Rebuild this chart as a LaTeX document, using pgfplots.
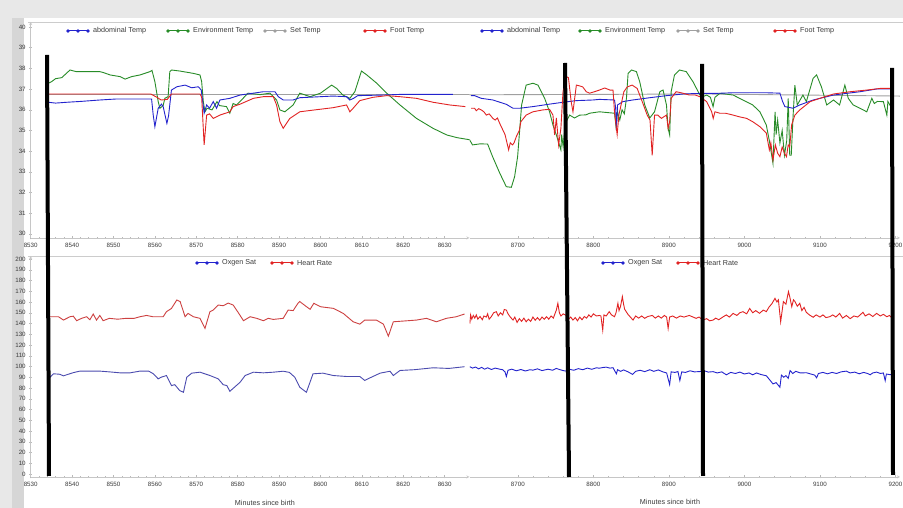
\documentclass[border=0pt]{standalone}
\usepackage{fontspec}
\setmainfont{Liberation Sans}
\usepackage{pgfplots}
\pgfplotsset{compat=1.18}

\definecolor{cblue}{RGB}{35,35,205}
\definecolor{cgreen}{RGB}{40,140,40}
\definecolor{cred}{RGB}{225,35,35}
\definecolor{cgray}{RGB}{160,160,160}
\definecolor{lblue}{RGB}{75,75,175}
\definecolor{lred}{RGB}{205,65,65}
\definecolor{txt}{RGB}{60,60,60}

\pgfplotsset{
  panel/.style={scale only axis, axis line style={gray!45,-}, tick style={gray!55, line width=0.4pt},
    tick align=outside, major tick length=3pt, minor tick length=1.8pt,
    ticklabel style={font=\fontsize{6.2}{7}\selectfont, text=txt},
    /pgf/number format/assume math mode=true, /pgf/number format/1000 sep={},
    every axis plot/.append style={line width=0.9pt, mark=none},
    axis x line=bottom},
  leftx/.style={xmin=8530, xmax=8636, xtick={8530,8540,...,8630}, minor x tick num=4, width=438.8pt, axis y line=left},
  rightx/.style={xmin=8636, xmax=9206, xtick={8700,8800,...,9200}, minor x tick num=4, width=430.5pt, axis y line=none},
  toppanel/.style={ymin=29.8, ymax=40.24, height=216pt, ytick={30,31,...,40}},
  botpanel/.style={ymin=-2.8, ymax=202.8, height=221pt, ytick={0,10,...,200}},
}

\newcommand{\leg}[4]{%
  \draw[#1, line width=1pt] (#2pt,#3pt) -- ++(20pt,0);
  \fill[#1] (#2pt,#3pt) circle(1.8pt) ++(10pt,0) circle(1.8pt) ++(10pt,0) circle(1.8pt);
  \node[anchor=west, font=\fontsize{7.2}{8}\selectfont, text=txt, inner sep=0pt] at (#2pt+25pt,#3pt) {#4};
}

\begin{document}
\begin{tikzpicture}
\useasboundingbox (0pt,0pt) rectangle (903pt,508pt);
\fill[gray!18] (0pt,0pt) rectangle (903pt,508pt);
\fill[gray!32] (12pt,0pt) rectangle (24pt,490pt);
\fill[white] (24pt,0pt) rectangle (903pt,490pt);
\draw[gray!40, line width=0.5pt] (28pt,486pt) -- (903pt,486pt);
\draw[gray!40, line width=0.5pt] (28pt,252pt) -- (903pt,252pt);

% ---------------- top left ----------------
\begin{axis}[panel, leftx, toppanel, at={(30.7pt,270pt)}, anchor=south west]
\addplot[cgray] coordinates {(8534,36.72) (8636,36.72)};
\addplot[cgreen] coordinates {(8534.3,37.28) (8535,37.35) (8536,37.5) (8537.5,37.55) (8539.5,37.92) (8541,37.84) (8546.7,37.84) (8547.5,37.8) (8549.2,37.68) (8551.6,37.6) (8552.8,37.48) (8554.4,37.6) (8556.4,37.68) (8558.8,37.84) (8559.3,37.9) (8560,37.35) (8560.8,36.39) (8561.2,36.07) (8562,36.2) (8562.4,36.55) (8563.2,36.63) (8563.6,37.84) (8564,37.92) (8566,37.87) (8569.2,37.76) (8570.9,37.68) (8571.3,37.35) (8571.7,36.39) (8572.1,35.9) (8572.6,36.07) (8573.8,35.99) (8575,36.39) (8575.6,36.2) (8577.3,36.15) (8578.1,35.83) (8578.9,36.3) (8579.7,36.23) (8581.3,36.55) (8582.5,36.8) (8585.4,36.73) (8587.8,36.8) (8589.4,36.47) (8590.2,35.99) (8591.4,35.9) (8593.4,36.23) (8595,36.8) (8597.5,36.63) (8600,36.8) (8602.7,37.19) (8603.9,37.03) (8605.4,36.71) (8607.1,36.55) (8608.3,36.87) (8609.9,37.87) (8611.2,37.68) (8613.6,37.28) (8616,36.8) (8619.2,36.23) (8623.2,35.58) (8627.2,35.1) (8630.5,34.78) (8633,34.65) (8636,34.55)};
\addplot[cblue] coordinates {(8534.3,36.36) (8536,36.32) (8538.7,36.36) (8542,36.4) (8546.7,36.47) (8550.8,36.52) (8559.2,36.52) (8559.6,35.74) (8560,35.18) (8560.8,36.07) (8561.6,36.27) (8562,36.15) (8562.9,35.34) (8563.3,35.7) (8564,36.95) (8565.3,37.11) (8567.3,37.19) (8568.9,37.06) (8570.5,37.11) (8571.2,36.95) (8571.9,35.83) (8572.5,36.23) (8573.2,36.07) (8574.1,36.39) (8574.9,36.07) (8575.7,36.47) (8578.1,36.55) (8580.6,36.71) (8583.8,36.8) (8586.2,36.87) (8589,36.87) (8589.8,36.63) (8591,36.47) (8593.4,36.47) (8595,36.58) (8600,36.63) (8603,36.66) (8606.3,36.63) (8607.1,36.47) (8608,36.55) (8609,36.68) (8615.2,36.71) (8619.2,36.74) (8632,36.74)};
\addplot[cred] coordinates {(8534.3,36.76) (8559,36.76) (8560.5,36.6) (8561.5,36.47) (8563,36.5) (8564,36.76) (8570.9,36.76) (8571.3,36.6) (8571.9,34.3) (8572.5,35.74) (8573.2,35.8) (8574.1,35.58) (8575.7,35.74) (8578.1,35.9) (8578.9,36.15) (8580.6,36.27) (8583.8,36.55) (8586.2,36.63) (8588.6,36.63) (8589.4,36.23) (8590.2,35.42) (8591,35.1) (8592.6,35.58) (8595,35.9) (8599,36.0) (8603.1,36.1) (8606.3,36.23) (8607.1,35.9) (8607.8,36.05) (8609.5,36.44) (8612.7,36.6) (8616,36.68) (8619.2,36.63) (8623.2,36.55) (8627.2,36.36) (8631.2,36.23) (8635,36.15)};
\end{axis}

% ---------------- top right ----------------
\begin{axis}[panel, rightx, toppanel, at={(469.5pt,270pt)}, anchor=south west]
\addplot[cgray] coordinates {(8636,36.72) (8950,36.76) (9206,36.66)};
\addplot[cgreen] coordinates {(8636,34.55) (8640,34.3) (8650,34.35) (8660,34.34) (8666.6,33.73) (8676,32.94) (8684.7,32.28) (8691.4,32.25) (8695.7,32.76) (8699.7,33.73) (8702.4,35.0) (8705,36.23) (8711,37.19) (8720,37.28) (8726.6,37.19) (8735.5,36.55) (8742,35.9) (8746.5,35.26) (8751,34.78) (8755,34.3) (8757,34.06) (8758,34.8) (8760,34.2) (8762,35.0) (8764,35.42) (8768.6,35.74) (8775,35.6) (8782,35.74) (8790,35.75) (8795,35.83) (8808,35.9) (8828,35.83) (8830,35.2) (8832,35.9) (8835,35.5) (8838,36.0) (8841,35.8) (8843.8,36.55) (8846,37.76) (8850.4,37.92) (8857,37.84) (8861.4,37.35) (8868,36.23) (8874.7,35.6) (8881,35.9) (8888,36.87) (8892.3,36.95) (8896.8,36.23) (8899,35.1) (8901,34.78) (8903,36.87) (8907.4,37.68) (8914,37.92) (8923,37.84) (8932,37.35) (8941,36.71) (8945,36.63) (8950,36.71) (8955,36.6) (8958.5,36.15) (8961,36.6) (8967.5,36.79) (8985,36.71) (8998,36.47) (9011,36.23) (9020.5,35.9) (9029,35.26) (9033,34.5) (9037.8,33.41) (9040.6,35.9) (9042,34.8) (9044,35.5) (9047,34.39) (9050,35.0) (9053,33.8) (9056,34.5) (9058,36.55) (9060,33.8) (9062,33.8) (9064.5,35.74) (9066.8,37.19) (9070,36.23) (9077.5,36.71) (9082,36.39) (9091,37.52) (9095.6,37.68) (9102,37.1) (9109,36.23) (9118,36.47) (9126,36.23) (9133,37.19) (9137.5,36.55) (9144,36.23) (9153,36.07) (9162,35.9) (9168.7,36.55) (9172,36.3) (9176,36.4) (9184,36.39) (9188.6,35.74) (9190,36.4) (9193,36.2)};
\addplot[cblue] coordinates {(8638,36.68) (8642.7,36.68) (8651.6,36.55) (8667,36.47) (8684.8,36.26) (8693.6,36.07) (8702.4,36.07) (8720,36.15) (8742,36.27) (8759.8,36.36) (8777.5,36.44) (8799.5,36.47) (8808,36.5) (8828,36.47) (8829.5,36.1) (8830.5,35.0) (8832,36.23) (8839,36.39) (8852,36.47) (8874.7,36.58) (8896.8,36.68) (8918.8,36.76) (8941,36.79) (8963,36.79) (8985,36.82) (9029,36.82) (9047,36.8) (9050.5,36.4) (9053.6,36.15) (9064.5,36.07) (9073.3,36.23) (9091,36.47) (9118,36.71) (9153,36.87) (9175,37.0) (9195,37.0)};
\addplot[cred] coordinates {(8638,36.07) (8642.7,36.07) (8645,35.95) (8648,36.05) (8651.6,35.99) (8655,35.9) (8658.3,35.74) (8662,35.8) (8667,35.58) (8670,35.5) (8673,35.6) (8676,35.34) (8680.4,35.0) (8683,34.8) (8685,34.5) (8687.8,34.06) (8690,34.4) (8693,34.3) (8695,34.4) (8698,34.7) (8702,35.0) (8704,35.42) (8711,35.74) (8720,35.9) (8733,35.99) (8742,36.02) (8746.5,35.74) (8748.7,34.78) (8751,35.6) (8754,34.3) (8757,35.1) (8759.8,36.87) (8764,37.6) (8767,37.55) (8770.6,36.39) (8773,35.9) (8777.5,37.19) (8782,37.15) (8786,37.1) (8790.6,36.87) (8795,36.8) (8801.5,36.87) (8808,36.95) (8815,37.05) (8822,36.95) (8826,36.95) (8828,35.9) (8830.5,35.1) (8831.5,34.8) (8833.8,35.74) (8840.4,36.87) (8844.8,37.1) (8851.4,37.19) (8858,37.03) (8864.7,36.39) (8871.3,35.74) (8875,35.5) (8877.9,33.8) (8881,35.74) (8885.4,35.74) (8890,35.58) (8896.8,35.74) (8899,35.1) (8901,35.42) (8903,36.55) (8909.6,36.87) (8918.4,36.8) (8927,36.71) (8935,36.71) (8941,36.63) (8950,36.39) (8956.6,35.9) (8958.7,35.58) (8961,35.9) (8967.5,35.83) (8975,35.83) (8985,35.74) (8993,35.66) (9003,35.58) (9011,35.42) (9020.5,35.18) (9029,34.87) (9033,34.06) (9035,34.4) (9037.8,33.57) (9041,34.3) (9044,33.9) (9047,33.73) (9050,34.2) (9053,33.9) (9055.7,33.73) (9058,34.3) (9060,34.2) (9062.5,35.26) (9066.8,35.74) (9073.3,35.99) (9087,36.39) (9100,36.55) (9118,36.76) (9140,36.87) (9162,36.95) (9180,37.03) (9195,37.03)};
\end{axis}

% ---------------- bottom left ----------------
\begin{axis}[panel, leftx, botpanel, at={(30.7pt,31pt)}, anchor=south west]
\addplot[lblue] coordinates {(8534.7,90) (8535.5,93.2) (8537,92.8) (8537.9,91.3) (8540.3,94.3) (8541.9,95.7) (8546.7,95.7) (8549,95) (8551.6,94.1) (8554,94.1) (8556.4,95.7) (8558.5,95.7) (8559.6,93.3) (8560.8,88.5) (8561.5,90) (8562.8,91.6) (8564,82.2) (8564.8,83.1) (8566,77.6) (8566.9,76) (8567.7,90) (8568.9,93.8) (8570.9,94.7) (8573.3,91.6) (8575.3,88.5) (8576.5,83.1) (8577.4,82.2) (8578.1,76.9) (8580.6,85.4) (8581.8,91.6) (8583.8,94.7) (8586.2,94.1) (8588.6,94.7) (8591,95.6) (8592.5,94.5) (8593.8,90) (8595,80.7) (8596.6,76) (8598.2,93.2) (8600.6,93.8) (8603.1,91.6) (8606.3,90.7) (8609.5,90.7) (8610.7,87) (8612,89.5) (8614.4,93.8) (8616.8,95.6) (8617.6,91.6) (8619.2,96.3) (8622.6,97) (8627.2,98.8) (8631,98.2) (8634.8,99.8)};
\addplot[lred] coordinates {(8534.7,146.3) (8536.7,146.3) (8537.9,143.2) (8539.5,146.3) (8540.3,146.8) (8541.1,142.6) (8542.3,144.8) (8543.5,146.3) (8544.3,143.5) (8545.1,148.8) (8545.9,143.2) (8546.7,147.5) (8547.5,142.6) (8549,144.8) (8551,144) (8553,144.8) (8555,144.8) (8556.4,146.3) (8558,147.5) (8559.5,146.3) (8562,146.3) (8562.8,151) (8564,154) (8565.3,161.9) (8566.1,160.4) (8567.3,146.3) (8568,149.4) (8569.3,146.3) (8570.9,144.8) (8572.1,135.4) (8573.3,151) (8574.1,152.5) (8575.3,157.2) (8576.5,156.5) (8577.7,159) (8578.9,157.2) (8580.1,150.4) (8581.4,142.6) (8583,146.3) (8584.6,144.8) (8586.2,142.6) (8587.4,144.8) (8588.6,143.8) (8591,144.8) (8592.2,152.5) (8593.4,152) (8594.6,159) (8595,160.4) (8596.6,155.7) (8597.5,153.2) (8598.4,158.8) (8600,155.6) (8603.1,154.1) (8605.5,149.4) (8607.9,141.6) (8609.5,139.4) (8610.7,143.2) (8613.5,143.2) (8615.2,139.4) (8616.4,128.2) (8617.6,141.6) (8620.8,142.5) (8623.2,143.2) (8625.6,144.8) (8628,141.6) (8630.4,144.8) (8632.8,146.3) (8634.8,148.8)};
\end{axis}

% ---------------- bottom right ----------------
\begin{axis}[panel, rightx, botpanel, at={(469.5pt,31pt)}, anchor=south west]
\addplot[cblue] coordinates {(8636.5,99.8) (8640,98.5) (8644,99.5) (8648,97.8) (8652,99.2) (8656,97.5) (8660,98.8) (8665,97.2) (8670,98.5) (8676,97.5) (8680,97) (8683,95) (8684.8,90.7) (8687,96.5) (8692,97.5) (8698,96) (8704,97.2) (8710,95.8) (8716,97) (8720,96.6) (8726,97.8) (8732,96.2) (8740,97.5) (8746,96.5) (8751,98.2) (8756,97) (8760,96.2) (8764,95.7) (8768,97.5) (8774,96.5) (8780,98) (8786,97) (8792,98.5) (8798,97.4) (8804,98.8) (8808,98.4) (8812,99) (8817,99.4) (8822,98.5) (8826,98.9) (8830.5,93.2) (8832,97) (8836,95.5) (8840,96.8) (8846,95) (8852,92.6) (8856,95.5) (8862,96.5) (8868,95.2) (8874.7,97) (8880,95.5) (8886,96.8) (8892,95) (8897,94) (8901,83.2) (8903,95) (8908,94.5) (8912,95.3) (8914.5,86.9) (8917,95) (8922,94.5) (8928,96) (8934,95) (8941,95.3) (8947,96) (8952,94.8) (8958.5,95.2) (8964,94) (8970,95) (8976,92.3) (8982,94.5) (8988,93.5) (8994,94.8) (9000,93) (9006,94) (9011,92.3) (9016,94) (9022,92.5) (9029,91.4) (9033,88) (9037.8,83.8) (9042,85) (9047,80.7) (9049,92) (9052,90) (9055,91.5) (9058,89) (9060.5,96.2) (9064,93.5) (9068,95.5) (9074,94) (9082,94.2) (9088,93) (9093,92) (9095.6,89.5) (9098,93.5) (9104,94.5) (9110,93.2) (9116,94.5) (9122,93.5) (9128,95) (9135,95.7) (9140,94) (9146,94.8) (9152,93.2) (9158,94.5) (9163,93.5) (9166.5,92.3) (9170,94) (9175,94.8) (9180,93.5) (9184,94) (9186.4,86.9) (9188,93) (9192,92.5) (9197,92.3)};
\addplot[cred] coordinates {(8636.5,140) (8637.5,148) (8639,144) (8641,147.5) (8643,145) (8645,148) (8647,144) (8650,146.5) (8653,143.5) (8655,147) (8658.3,146) (8660,149) (8662,144) (8665,146.5) (8668,150) (8671.5,151) (8674,147) (8677,150) (8680,148) (8682,153) (8684.8,152.5) (8687,149) (8690,146) (8693.6,143.2) (8696,146) (8699,141) (8702,144.5) (8705,142) (8708,145) (8711,141.6) (8714,144) (8717,142) (8720,146) (8723,143) (8726,145.5) (8729,143) (8732,146) (8735,144) (8738,146.3) (8741,144) (8744,147) (8747,145) (8751,152.5) (8753,158.8) (8755,150) (8757,147) (8760,149) (8764,147.5) (8767,144) (8770,146) (8773,143.2) (8776,145.5) (8779,142.5) (8782,146) (8785,143.5) (8788,146.5) (8791,145) (8794,148) (8797,146) (8800,149) (8804,147) (8808,147.5) (8810,147) (8812.4,133.8) (8814,148) (8817,147) (8821,151) (8824,148) (8828,146.3) (8830,150) (8832.5,158.8) (8834,152) (8836,156) (8838.4,165) (8840,158) (8841.4,153.3) (8845.8,148.5) (8849,146) (8852.5,143.2) (8856,147) (8860,145) (8864,147) (8868,144.8) (8872,146.5) (8878,147.5) (8882,145) (8886,147) (8890,145) (8894,147.5) (8897,146) (8899,135.4) (8901,146) (8905,147) (8910,145) (8915,147) (8920,146) (8927,147.5) (8932,146) (8936,144.8) (8940,146) (8945,143.2) (8950,144.5) (8954,142.5) (8958.5,143.2) (8962,145) (8966,143.5) (8972,146.3) (8976,148) (8980,146) (8985,149.4) (8990,147.5) (8994,150) (8998,151) (9003,149) (9007,154) (9011,150) (9015,152) (9020,149.5) (9025,152.5) (9029,151) (9033,155.7) (9036,158) (9040.5,163.4) (9043,160) (9045,162) (9048,141.6) (9051.6,160.4) (9055,158) (9058.3,169.7) (9060,165) (9062.7,155.7) (9065,162) (9067,160.4) (9070,156) (9073.3,158.8) (9076,152) (9079,155) (9082,150.4) (9086,148) (9091,145.8) (9095,148) (9100,146) (9104,148) (9108,145.5) (9113,146.3) (9117,148) (9121,146) (9126,149.4) (9130,145) (9135,147.5) (9140,144.5) (9145,147) (9150,146) (9157,150.4) (9160,147) (9165,149) (9170,146.5) (9175,149.4) (9180,147) (9184,148.5) (9188.6,146.3) (9192,147.5) (9196,144.8)};
\end{axis}

% legends
\leg{cblue}{68}{477}{abdominal Temp}
\leg{cgreen}{168}{477}{Environment Temp}
\leg{cgray}{265}{477}{Set Temp}
\leg{cred}{365}{477}{Foot Temp}
\leg{cblue}{482}{477}{abdominal Temp}
\leg{cgreen}{580}{477}{Environment Temp}
\leg{cgray}{678}{477}{Set Temp}
\leg{cred}{775}{477}{Foot Temp}
\leg{cblue}{197}{245}{Oxgen Sat}
\leg{cred}{272}{245}{Heart Rate}
\leg{cblue}{603}{245}{Oxgen Sat}
\leg{cred}{678}{245}{Heart Rate}

\node[font=\fontsize{7.2}{8}\selectfont, text=txt] at (265pt,5pt) {Minutes since birth};
\node[font=\fontsize{7.2}{8}\selectfont, text=txt] at (670pt,6pt) {Minutes since birth};

% black annotation lines
\draw[line width=4pt, black] (47pt,453pt) -- (49pt,32pt);
\draw[line width=4pt, black] (565pt,445pt) -- (569pt,31pt);
\draw[line width=4pt, black] (702pt,444pt) -- (703pt,32pt);
\draw[line width=4pt, black] (892pt,440pt) -- (893pt,33pt);
\end{tikzpicture}
\end{document}
